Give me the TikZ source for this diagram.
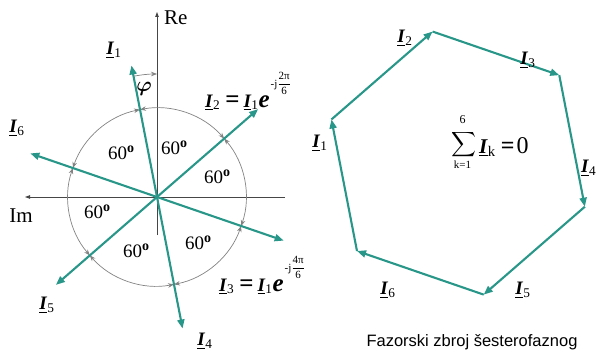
\documentclass[tikz,border=0pt]{standalone}
\usepackage{amsmath}
\usepackage{fontspec}
\setmainfont{Liberation Serif}
\newfontfamily\capfont{Liberation Sans}
\usetikzlibrary{arrows.meta,calc}
\definecolor{teal}{RGB}{40,150,136}
\definecolor{arcgray}{RGB}{130,130,130}
\definecolor{axgray}{RGB}{70,70,70}
\newcommand{\Ph}[1]{\underline{\textbf{\textit{I}}}\textsubscript{#1}}
\newcommand{\BigEq}{\hspace{5pt}{\fontsize{25}{25}\selectfont\textbf{=}}\hspace{4pt}}
\newcommand{\Ee}{{\fontsize{25}{25}\selectfont\textbf{\textit{e}}}}
\newcommand{\Expo}[1]{\hspace{1pt}\raisebox{20pt}{\fontsize{11}{11}\selectfont -j$\genfrac{}{}{0.5pt}{0}{\text{#1π}}{\text{6}}$}}
\newcommand{\Sixty}{60\raisebox{6.5pt}{\fontsize{14}{14}\selectfont\textbf{o}}}
\tikzset{
  phasor/.style={draw=teal,line width=2.1pt,-{Triangle[length=9pt,width=7pt]}},
  axisline/.style={draw=axgray,line width=0.8pt,-{Triangle[length=5pt,width=3.5pt]}},
  anglearc/.style={draw=arcgray,line width=0.7pt,{Stealth[length=6pt,width=4.5pt]}-{Stealth[length=6pt,width=4.5pt]}},
  phiarc/.style={draw=arcgray,line width=0.7pt,-{Stealth[length=6pt,width=4.5pt]}},
  lbl/.style={font=\fontsize{19}{21}\selectfont,inner sep=0pt},
  deg/.style={font=\fontsize{19}{21}\selectfont,inner sep=0pt},
}
\begin{document}
\begin{tikzpicture}[x=1pt,y=1pt]
\useasboundingbox (0,0) rectangle (599,354);
% axes
\coordinate (O) at (157,157);
\coordinate (ReS) at (157,119);
\coordinate (ReE) at (157,342);
\coordinate (ImS) at (285,157);
\coordinate (ImE) at (25,157);
\draw[axisline] (ReS) -- (ReE);
\draw[axisline] (ImS) -- (ImE);
\node[font=\fontsize{21}{22}\selectfont,anchor=west,inner sep=0pt] (re) at (164,336) {Re};
\node[font=\fontsize{21}{22}\selectfont,inner sep=0pt] (im) at (21,138) {Im};
% angle arcs
\foreach \a/\b in {101/41,41/-19,-19/-79,-79/-139,-139/-199,161/101}{
  \draw[anglearc] ([shift={(\a:89)}]O) arc[start angle=\a,end angle=\b,radius=89];
}
\draw[phiarc] ([shift={(101:123)}]O) arc[start angle=101,end angle=90,radius=123];
\node[inner sep=0pt,font=\fontsize{20}{20}\selectfont] (phi) at (144,265) {$\boldsymbol{\varphi}$};
% phasors
\coordinate (T1) at ([shift={(101:134)}]O);
\coordinate (T2) at ([shift={(41:134)}]O);
\coordinate (T3) at ([shift={(-19:134)}]O);
\coordinate (T4) at ([shift={(-79:134)}]O);
\coordinate (T5) at ([shift={(-139:134)}]O);
\coordinate (T6) at ([shift={(161:134)}]O);
\foreach \t in {T1,T2,T3,T4,T5,T6}{\draw[phasor] (O) -- (\t);}
% 60 degree labels
\node[deg] (g1) at (121,201) {\Sixty};
\node[deg] (g2) at (174,206) {\Sixty};
\node[deg] (g3) at (217,177) {\Sixty};
\node[deg] (g4) at (97,142) {\Sixty};
\node[deg] (g5) at (136,103) {\Sixty};
\node[deg] (g6) at (198,111) {\Sixty};
% phasor labels
\node[lbl] (l1) at (114,304) {\Ph{1}};
\node[lbl] (l6) at (17,226) {\Ph{6}};
\node[lbl] (l5) at (47,49) {\Ph{5}};
\node[lbl] (l4) at (205,13) {\Ph{4}};
\node[lbl,anchor=base west] (f2) at (205,247) {\Ph{2}\BigEq\Ph{1}\Ee\Expo{2}};
\node[lbl,anchor=base west] (f3) at (219,63) {\Ph{3}\BigEq\Ph{1}\Ee\Expo{4}};
% polygon
\coordinate (H0) at (357,103);
\coordinate (H1) at ([shift={(101:134)}]H0);
\coordinate (H2) at ([shift={(41:134)}]H1);
\coordinate (H3) at ([shift={(-19:134)}]H2);
\coordinate (H4) at ([shift={(-79:134)}]H3);
\coordinate (H5) at ([shift={(-139:134)}]H4);
\draw[phasor] (H0) -- (H1);
\draw[phasor] (H1) -- (H2);
\draw[phasor] (H2) -- (H3);
\draw[phasor] (H3) -- (H4);
\draw[phasor] (H4) -- (H5);
\draw[phasor] (H5) -- (H0);
\node[lbl] (p1) at (320,211) {\Ph{1}};
\node[lbl] (p2) at (405,316) {\Ph{2}};
\node[lbl] (p3) at (528,294) {\Ph{3}};
\node[lbl,anchor=west] (p4) at (581,186) {\Ph{4}};
\node[lbl] (p5) at (523,64) {\Ph{5}};
\node[lbl] (p6) at (388,64) {\Ph{6}};
% sum formula
\node[inner sep=0pt,font=\fontsize{19}{19}\selectfont] (sig) at (463.5,209) {$\displaystyle\sum$};
\node[inner sep=0pt,font=\fontsize{12}{12}\selectfont] (sup) at (462.5,234) {6};
\node[inner sep=0pt,font=\fontsize{11}{11}\selectfont] (sub) at (462.5,189) {k=1};
\node[inner sep=0pt,anchor=base west] (sum) at (479,201) {{\fontsize{21}{21}\selectfont\Ph{k}}\hspace{5pt}{\fontsize{24}{24}\selectfont\textbf{=}\hspace{2pt}0}};
\node[font=\capfont\fontsize{16.5}{18}\selectfont,inner sep=0pt] (cap) at (472,12) {Fazorski zbroj šesterofaznog};
\end{tikzpicture}
\end{document}
